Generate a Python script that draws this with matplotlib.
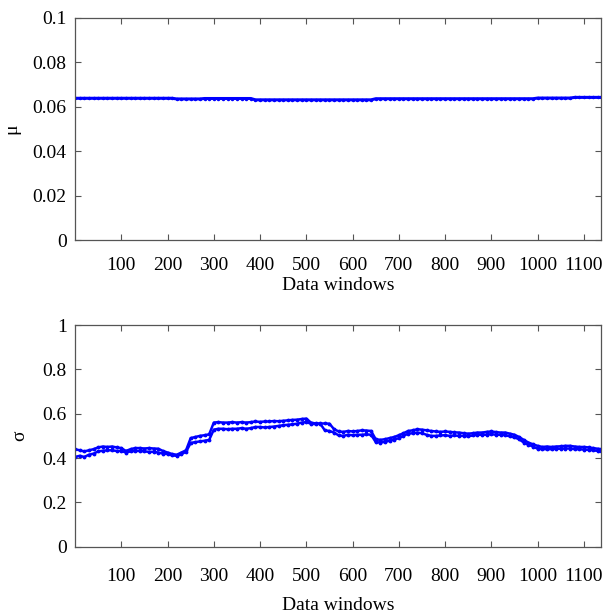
import numpy as np
import matplotlib
matplotlib.use("Agg")
import matplotlib.pyplot as plt

# window index (sampled every 10 windows)
windows = list(range(0, 1137, 10)) + [1137]

mu = ([0.0639] * 22 + [0.0636] * 6 + [0.0638] * 11 + [0.0632] * 26
      + [0.0637] * 35 + [0.0640] * 8 + [0.0643] * 7)

sigma_hi = [
    0.440, 0.435, 0.430, 0.435, 0.440, 0.448, 0.452, 0.450, 0.452, 0.448,
    0.445, 0.432, 0.440, 0.445, 0.445, 0.443, 0.445, 0.443, 0.442, 0.432,
    0.425, 0.418, 0.415, 0.425, 0.435, 0.490, 0.495, 0.500, 0.503, 0.507,
    0.560, 0.562, 0.560, 0.560, 0.562, 0.560, 0.562, 0.560, 0.562, 0.565,
    0.563, 0.565, 0.565, 0.567, 0.566, 0.568, 0.570, 0.572, 0.573, 0.576,
    0.578, 0.560, 0.556, 0.556, 0.556, 0.555, 0.530, 0.520, 0.518, 0.522,
    0.520, 0.522, 0.525, 0.524, 0.522, 0.485, 0.482, 0.485, 0.490, 0.495,
    0.503, 0.512, 0.522, 0.525, 0.530, 0.528, 0.525, 0.522, 0.520, 0.518,
    0.520, 0.518, 0.516, 0.515, 0.512, 0.510, 0.512, 0.515, 0.515, 0.518,
    0.520, 0.517, 0.515, 0.515, 0.510, 0.505, 0.495, 0.482, 0.470, 0.462,
    0.455, 0.450, 0.452, 0.450, 0.452, 0.453, 0.455, 0.455, 0.452, 0.450,
    0.450, 0.448, 0.445, 0.442, 0.440,
]
sigma_lo = [
    0.405, 0.410, 0.405, 0.415, 0.420, 0.430, 0.433, 0.435, 0.435, 0.432,
    0.432, 0.425, 0.430, 0.432, 0.432, 0.430, 0.428, 0.428, 0.425, 0.420,
    0.418, 0.412, 0.410, 0.418, 0.428, 0.468, 0.472, 0.475, 0.478, 0.482,
    0.528, 0.532, 0.532, 0.530, 0.532, 0.532, 0.535, 0.532, 0.535, 0.540,
    0.540, 0.538, 0.540, 0.542, 0.545, 0.548, 0.550, 0.552, 0.555, 0.560,
    0.562, 0.555, 0.553, 0.555, 0.525, 0.522, 0.515, 0.502, 0.500, 0.505,
    0.503, 0.505, 0.505, 0.507, 0.505, 0.472, 0.470, 0.473, 0.478, 0.483,
    0.490, 0.500, 0.510, 0.512, 0.515, 0.512, 0.505, 0.500, 0.500, 0.502,
    0.503, 0.500, 0.502, 0.500, 0.500, 0.498, 0.502, 0.505, 0.505, 0.505,
    0.508, 0.505, 0.505, 0.503, 0.498, 0.493, 0.485, 0.470, 0.460, 0.452,
    0.442, 0.440, 0.440, 0.440, 0.442, 0.442, 0.443, 0.443, 0.440, 0.440,
    0.438, 0.437, 0.435, 0.432, 0.432,
]

xticks = list(range(100, 1200, 100))

plt.rcParams['font.family'] = ['Liberation Serif', 'DejaVu Serif']
plt.rcParams['font.size'] = 14

fig = plt.figure(figsize=(6.05, 6.15), dpi=100)
ax1 = fig.add_axes([0.124, 0.609, 0.8694, 0.3618])
ax2 = fig.add_axes([0.124, 0.111, 0.8694, 0.3605])

ax1.plot(windows, mu, '.-', color='#0000ff', lw=2.2, ms=3)
ax2.plot(windows, sigma_hi, '.-', color='#0000ff', lw=1.8, ms=3.5)
ax2.plot(windows, sigma_lo, '.-', color='#0000ff', lw=1.8, ms=3.5)

ax1.set_ylim(0, 0.1)
ax1.set_yticks([0, 0.02, 0.04, 0.06, 0.08, 0.1])
ax1.set_yticklabels(['0', '0.02', '0.04', '0.06', '0.08', '0.1'])
ax1.set_ylabel('μ', labelpad=9)

ax2.set_ylim(0, 1)
ax2.set_yticks([0, 0.2, 0.4, 0.6, 0.8, 1])
ax2.set_yticklabels(['0', '0.2', '0.4', '0.6', '0.8', '1'])
ax2.set_ylabel('σ', labelpad=10)

for ax in (ax1, ax2):
    ax.set_xlim(0, 1137)
    ax.set_xticks(xticks)
    ax.tick_params(direction='in', length=4, width=0.8, color='#555555',
                   top=True, right=True, pad=6)
    for s in ax.spines.values():
        s.set_color('#555555')
        s.set_linewidth(0.9)

ax1.tick_params(axis='x', pad=12)
ax2.tick_params(axis='x', pad=15)
ax1.set_xlabel('Data windows', labelpad=2)
ax2.set_xlabel('Data windows', labelpad=9)

fig.savefig('out.png', dpi=100, facecolor='white')
